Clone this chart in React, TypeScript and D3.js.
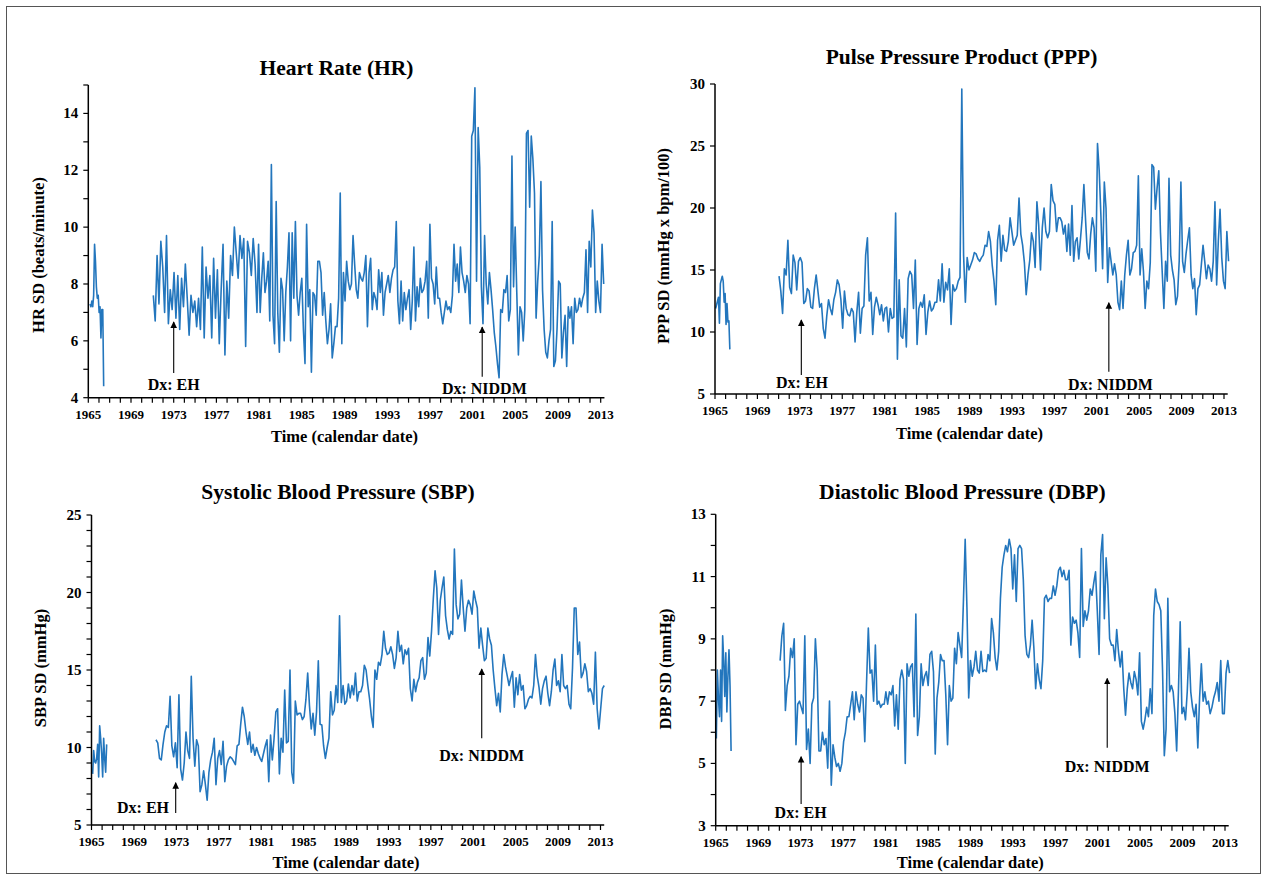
import React from "react";
import * as d3 from "d3";

// ---- data (values are SDs, time in calendar years) ----
const yearTicks = d3.range(1965, 2014);
const yearLabels = d3.range(1965, 2014, 4);

// Heart rate SD (beats/minute)
const hrEarly = [7.3, 7.2, 7.4, 7.2, 7.6, 9.4, 8.8, 7.9, 7.5, 7.6, 7.0, 7.2, 6.1, 7.1, 7.1, 4.4];
const hrA = [7.6, 6.7, 9.0, 7.3, 9.5, 8.6, 7.0, 9.7, 6.6, 7.8, 7.1, 8.4, 6.8, 8.3, 6.4, 8.2, 7.2, 8.7, 7.5, 6.2, 7.6, 7.0, 7.4, 6.5, 7.5, 6.4, 9.3, 6.1, 8.6, 7.5, 8.3, 6.1, 8.9, 6.8, 8.5, 5.9, 7.8, 9.4, 5.5, 8.1, 6.8, 9.0, 8.3, 10.0, 9.1, 8.2, 9.7, 8.9, 9.6, 5.8, 9.5, 9.1, 8.3, 9.6, 8.7, 7.0];
const hrB = [9.4, 7.0, 8.2, 9.1, 7.7, 8.1, 8.8, 6.7, 12.2, 6.9, 5.9, 10.9, 7.0, 5.6, 8.2, 7.8, 6.0, 7.7, 8.6, 9.8, 6.0, 9.8, 7.5, 10.2, 7.6, 6.9, 7.7, 8.2, 6.4, 5.2, 10.1, 7.2, 7.8, 4.9, 7.7, 7.6, 6.9, 8.8, 8.8, 8.4, 6.9, 7.7, 6.7, 5.9, 6.4, 7.3, 5.4, 5.9, 6.5, 6.5, 7.5, 11.2, 5.9, 8.4, 7.4, 8.8, 8.1, 7.8, 8.0, 9.7, 8.7, 7.8, 7.5, 8.4, 8.2, 8.1, 8.4, 9.0, 6.5, 8.4, 8.9, 7.1, 7.7, 7.5, 7.1, 8.5, 7.7, 8.4, 6.9, 7.7, 8.0, 8.3, 7.7, 8.2, 8.5, 8.6, 10.2, 7.4, 6.6, 8.1, 6.7, 7.7, 7.1, 7.5, 7.8, 6.4, 7.4, 9.3, 6.7, 7.9, 7.2, 8.2, 7.7, 7.8, 8.1, 8.8, 6.8, 10.1, 8.2, 8.0, 7.3];
const hrC = [8.6, 7.5, 7.5, 7.0, 6.6, 7.0, 7.4, 7.1, 7.2, 7.0, 7.6, 9.4, 8.1, 8.7, 7.7, 9.3, 8.4, 8.1, 7.7, 8.3, 8.0, 6.6, 13.2, 13.4, 14.9, 8.1, 13.5, 12.1, 7.9, 6.6, 9.7, 8.0, 7.3, 8.4, 7.8, 7.1, 6.3, 5.8, 5.2, 4.7, 7.1, 7.0, 7.8, 7.7, 8.3, 6.7, 7.1, 12.5, 7.9, 10.0, 7.7, 5.5, 7.2, 7.0, 6.0, 7.1, 13.3, 13.4, 10.7, 13.2, 12.4, 11.2, 6.8, 8.1, 9.0, 11.6, 7.8, 6.4, 5.6, 5.4, 6.0, 6.4, 10.2, 5.1, 5.3, 6.4, 8.1, 8.0, 5.4, 6.3, 6.9, 5.1, 7.2, 6.8, 7.2, 5.9, 7.5, 7.0, 7.1, 7.5, 7.2, 7.5, 7.7, 9.2, 7.0, 9.5, 8.6, 10.6, 9.8, 7.0, 8.1, 7.4, 7.0, 9.4, 8.0];
const hrSpans = [[1965.16, 1966.44], [1971.09, 1980.8], [1980.95, 1997.45], [1997.6, 2013.28]];

// Pulse pressure product SD (mmHg x bpm/100)
const pppEarly = [11.9, 12.2, 12.5, 12.8, 10.7, 13.9, 14.2, 14.5, 14.1, 12.4, 13.1, 10.6, 12.3, 10.8, 10.9, 8.6];
const pppA = [14.5, 13.3, 11.5, 15.1, 14.6, 17.4, 13.6, 13.1, 16.2, 15.6, 13.4, 15.7, 16.0, 15.6, 12.3, 12.5, 13.5, 13.3, 12.0, 11.9, 13.5, 14.6, 13.3, 12.0, 12.3, 10.3, 9.5, 11.3, 12.6, 11.9, 11.4, 12.6, 13.2, 14.2, 13.8, 12.6, 10.3, 13.3, 11.9, 11.4, 11.3, 11.9, 11.6, 9.2, 11.6, 13.2, 9.9, 11.9, 12.1, 16.2, 17.6, 12.5, 13.2, 9.8, 12.0, 12.8, 12.2, 11.4, 12.2, 10.9, 11.9];
const pppB = [12.0, 10.0, 11.9, 11.1, 11.2, 19.6, 7.8, 14.2, 9.7, 9.5, 11.9, 8.8, 14.3, 14.9, 14.6, 11.9, 15.8, 9.0, 11.9, 12.4, 12.0, 13.0, 9.8, 11.6, 12.5, 11.7, 11.9, 12.4, 12.4, 14.2, 12.5, 15.5, 12.4, 14.0, 13.4, 15.1, 10.6, 13.8, 13.3, 13.5, 14.1, 14.4, 29.6, 16.2, 12.4, 16.0, 15.0, 15.4, 15.8, 16.4, 16.3, 15.9, 15.7, 16.0, 16.2, 17.0, 16.9, 18.1, 17.3, 15.4, 14.1, 12.2, 17.4, 18.6, 15.7, 17.8, 16.6, 16.5, 17.3, 19.2, 18.1, 17.0, 17.4, 17.8, 20.8, 17.9, 17.0, 15.6, 13.0, 14.6, 15.8, 18.0, 17.3, 15.2, 20.5, 18.6, 15.0, 18.4, 20.0, 18.1, 17.6, 18.1, 21.9, 20.6, 20.3, 18.1, 19.2, 19.2];
const pppC = [18.9, 17.9, 18.6, 16.5, 18.7, 16.2, 20.2, 15.7, 17.3, 17.6, 15.9, 17.5, 19.2, 21.9, 19.0, 16.4, 15.9, 17.9, 19.2, 18.4, 14.9, 25.2, 23.0, 19.4, 15.1, 22.1, 20.0, 14.0, 16.8, 15.7, 14.6, 15.5, 14.6, 12.4, 11.8, 14.1, 11.9, 14.6, 16.2, 17.4, 14.6, 15.1, 16.4, 16.5, 17.0, 22.6, 14.6, 16.7, 14.9, 11.9, 14.1, 13.5, 15.6, 23.5, 23.3, 19.9, 21.6, 23.0, 18.0, 14.9, 11.9, 15.7, 14.1, 22.4, 16.2, 15.0, 14.2, 12.2, 12.9, 15.7, 22.1, 15.7, 14.8, 16.3, 17.4, 18.4, 14.6, 13.5, 14.3, 11.4, 13.5, 13.8, 15.4, 17.0, 15.7, 14.3, 15.4, 15.1, 14.1, 15.7, 20.5, 13.8, 17.4, 19.9, 16.0, 14.1, 13.5, 18.1, 15.7];
const pppSpans = [[1965.06, 1966.4], [1971.04, 1981.04], [1981.19, 1997.55], [1997.7, 2013.43]];

// Systolic blood pressure SD (mmHg)
const sbpEarly = [8.3, 9.8, 9.1, 9.0, 9.3, 10.2, 8.1, 11.4, 10.6, 9.6, 8.1, 10.6, 9.3, 8.4, 10.2];
const sbpA = [10.5, 10.3, 9.3, 9.2, 10.2, 11.0, 11.4, 11.3, 13.3, 10.1, 9.4, 10.3, 8.7, 13.4, 8.6, 7.9, 9.0, 11.0, 9.8, 9.3, 14.6, 10.6, 8.8, 10.5, 10.1, 7.15, 7.6, 8.5, 7.6, 6.6, 8.4, 9.2, 9.7, 10.6, 7.6, 9.3, 9.8, 8.9, 10.4, 7.8, 8.8, 9.2, 9.4, 9.3, 9.1, 8.9, 10.1, 10.2, 11.5, 12.6, 12.0, 11.0, 10.2, 11.0, 9.7, 10.2, 9.5, 10.0, 9.6, 9.3];
const sbpB = [9.1, 9.6, 10.1, 10.5, 7.8, 10.8, 9.2, 10.6, 12.3, 12.5, 8.3, 10.6, 9.7, 13.7, 10.3, 10.4, 15.0, 8.4, 7.7, 13.0, 12.1, 12.2, 12.2, 11.8, 12.0, 13.1, 14.8, 12.7, 11.2, 12.2, 10.8, 12.3, 15.6, 11.5, 11.45, 10.1, 9.3, 10.0, 10.6, 13.6, 12.1, 12.4, 14.0, 12.9, 18.5, 12.9, 14.0, 12.8, 13.0, 14.1, 13.2, 14.0, 13.4, 14.8, 13.0, 13.6, 13.6, 14.0, 15.3, 15.0, 14.0, 13.1, 12.0, 11.3, 15.0, 14.4, 15.5, 15.3, 16.0, 17.5, 16.4, 16.0, 16.1, 16.5, 16.0, 15.1, 15.8, 17.5, 16.2, 16.6, 15.4, 16.3, 16.0, 16.4, 13.8, 13.0, 14.4, 13.6, 14.2, 14.5, 15.6, 15.8, 14.4, 14.8, 17.1, 15.9, 17.5, 19.6, 21.4];
const sbpC = [20.3, 17.3, 19.5, 20.3, 21.0, 18.5, 17.6, 17.0, 17.5, 17.3, 22.8, 19.2, 18.3, 18.6, 20.8, 19.0, 17.5, 19.0, 19.5, 19.2, 18.6, 20.1, 19.5, 19.0, 16.4, 17.7, 16.6, 15.6, 15.75, 17.7, 17.0, 16.6, 15.0, 13.8, 12.7, 13.5, 12.3, 14.7, 16.0, 15.2, 14.6, 14.0, 14.5, 14.9, 12.6, 14.5, 13.4, 14.7, 13.7, 14.0, 12.5, 12.7, 13.1, 13.3, 13.2, 14.0, 16.0, 14.6, 13.9, 12.8, 13.8, 14.3, 14.6, 13.5, 12.7, 13.6, 15.0, 15.7, 14.0, 14.3, 13.6, 16.0, 14.0, 13.8, 14.0, 12.8, 12.5, 15.1, 19.0, 19.0, 16.0, 16.8, 14.5, 14.8, 15.4, 14.9, 13.6, 13.8, 13.5, 12.8, 16.15, 12.5, 11.2, 12.5, 13.8, 14.0];
const sbpSpans = [[1965.11, 1966.43], [1971.08, 1980.9], [1981.05, 1997.4], [1997.56, 2013.35]];

// Diastolic blood pressure SD (mmHg)
const dbpEarly = [5.8, 8.0, 7.1, 6.5, 8.0, 6.35, 9.1, 8.3, 7.15, 8.55, 6.65, 7.8, 8.65, 7.5, 5.4];
const dbpA = [8.3, 9.1, 9.5, 6.7, 7.5, 7.8, 8.7, 8.4, 9.0, 5.6, 6.9, 7.0, 6.8, 6.6, 9.1, 5.45, 6.1, 5.0, 6.9, 7.1, 9.0, 8.0, 5.4, 5.4, 6.0, 5.6, 5.8, 4.85, 7.0, 4.3, 5.6, 5.2, 4.9, 5.0, 4.75, 5.0, 5.7, 6.0, 6.5, 6.5, 6.9, 7.3, 6.4, 7.3, 6.9, 6.65, 7.2, 7.1, 5.7, 7.6, 9.35, 7.9, 8.0, 7.0, 8.8, 6.9, 7.0, 6.8, 6.9, 6.9];
const dbpB = [7.3, 6.9, 7.3, 7.2, 7.5, 6.2, 7.2, 6.1, 7.7, 8.0, 7.7, 5.0, 8.2, 7.8, 8.1, 8.2, 6.5, 9.8, 5.9, 6.5, 8.2, 7.5, 7.8, 7.95, 7.5, 8.5, 8.6, 7.95, 5.3, 7.1, 7.6, 8.5, 8.3, 8.3, 7.2, 5.6, 7.5, 7.0, 7.1, 8.7, 8.2, 9.2, 8.8, 8.4, 10.2, 12.2, 10.0, 7.1, 8.3, 7.8, 8.1, 8.6, 8.0, 7.9, 8.6, 7.95, 8.0, 7.95, 8.5, 8.3, 9.65, 9.2, 8.4, 8.0, 8.6, 10.3, 11.3, 11.7, 12.0, 11.8, 12.2, 11.9, 10.6, 11.7, 10.2, 11.9, 12.0, 11.9, 10.9, 9.1, 8.5, 8.4, 8.8, 9.6, 8.7, 7.4, 8.2, 7.7, 7.4, 8.3, 10.3, 10.4, 10.2, 10.3, 10.3, 10.7, 10.4, 10.7, 11.2, 11.3];
const dbpC = [11.0, 11.2, 10.9, 10.9, 11.2, 8.8, 9.7, 9.5, 9.6, 9.2, 8.4, 11.9, 9.4, 9.9, 9.6, 9.9, 10.6, 10.4, 10.8, 11.15, 9.9, 8.5, 11.7, 12.35, 9.65, 11.6, 10.7, 9.0, 8.8, 8.8, 8.3, 9.3, 8.6, 8.1, 8.6, 7.4, 6.55, 7.4, 7.9, 7.6, 7.4, 7.95, 7.7, 7.2, 8.55, 6.35, 6.1, 6.4, 6.8, 6.5, 7.4, 6.6, 9.75, 10.6, 10.2, 10.1, 9.9, 8.0, 5.25, 6.1, 10.3, 7.3, 7.5, 7.3, 6.6, 5.4, 7.3, 9.55, 6.6, 6.8, 6.4, 7.3, 8.7, 7.3, 6.8, 6.5, 6.9, 5.5, 7.1, 8.2, 7.0, 7.3, 6.9, 7.0, 6.6, 6.8, 7.1, 7.3, 7.6, 7.0, 8.3, 6.6, 6.6, 7.9, 8.3, 7.9];
const dbpSpans = [[1965.06, 1966.45], [1971.07, 1980.88], [1981.04, 1997.48], [1997.64, 2013.43]];

// diagnosis markers: [label, arrow year, arrow top value, arrow bottom value, label year, label value]
const hrNotes = [["Dx: EH", 1973.0, 6.7, 4.87, 1973.0, 4.45], ["Dx: NIDDM", 2001.9, 6.52, 4.74, 2002.1, 4.34]];
const pppNotes = [["Dx: EH", 1973.14, 11.05, 6.53, 1973.2, 5.9], ["Dx: NIDDM", 2002.14, 12.44, 6.8, 2002.3, 5.73]];
const sbpNotes = [["Dx: EH", 1972.94, 7.79, 5.77, 1969.86, 6.1], ["Dx: NIDDM", 2001.8, 15.13, 10.6, 2001.8, 9.47]];
const dbpNotes = [["Dx: EH", 1973.05, 5.25, 3.7, 1973.0, 3.41], ["Dx: NIDDM", 2001.9, 7.76, 5.5, 2001.9, 4.9]];

const FONT = "'Liberation Serif', 'Times New Roman', serif";
const BLUE = "#2376bd";

type Pt = { t: number; v: number };

const spread = (vals: number[], span: number[]): Pt[] =>
  vals.map((v, i) => ({ t: span[0] + ((span[1] - span[0]) * i) / (vals.length - 1), v }));

const panels = [
  {
    title: "Heart Rate (HR)", titleY: 75, yTitle: "HR SD (beats/minute)", yTitleX: 38, yTitleY: 255,
    xRange: [88.3, 600.7], yRange: [397.7, 85], yDomain: [4, 15], yStep: 1, yLabelStep: 2,
    early: hrEarly, parts: [hrA, hrB, hrC], spans: hrSpans, notes: hrNotes, xTitleY: 442,
  },
  {
    title: "Pulse Pressure Product (PPP)", titleY: 64, yTitle: "PPP SD (mmHg x bpm/100)", yTitleX: 663, yTitleY: 246,
    xRange: [715, 1224], yRange: [394, 84], yDomain: [5, 30], yStep: 5, yLabelStep: 5,
    early: pppEarly, parts: [pppA, pppB, pppC], spans: pppSpans, notes: pppNotes, xTitleY: 439,
  },
  {
    title: "Systolic Blood Pressure (SBP)", titleY: 499, yTitle: "SBP SD (mmHg)", yTitleX: 40, yTitleY: 668,
    xRange: [91.5, 600.5], yRange: [825, 515], yDomain: [5, 25], yStep: 1, yLabelStep: 5,
    early: sbpEarly, parts: [sbpA, sbpB, sbpC], spans: sbpSpans, notes: sbpNotes, xTitleY: 868,
  },
  {
    title: "Diastolic Blood Pressure (DBP)", titleY: 499, yTitle: "DBP SD (mmHg)", yTitleX: 665, yTitleY: 669,
    xRange: [715.7, 1225], yRange: [825.7, 514.3], yDomain: [3, 13], yStep: 1, yLabelStep: 2,
    early: dbpEarly, parts: [dbpA, dbpB, dbpC], spans: dbpSpans, notes: dbpNotes, xTitleY: 868,
  },
];

function Panel({ p }: { p: any }) {
  const x = d3.scaleLinear().domain([1965, 2013]).range(p.xRange);
  const y = d3.scaleLinear().domain(p.yDomain).range(p.yRange);
  const line = d3.line<Pt>().x((d) => x(d.t)).y((d) => y(d.v));

  const early = spread(p.early, p.spans[0]);
  const main = p.parts.flatMap((vals: number[], i: number) => spread(vals, p.spans[i + 1]));

  const yTicks = d3.range(p.yDomain[0], p.yDomain[1] + 0.001, p.yStep);
  const x0 = x(1965);
  const xEnd = x(2013.35);
  const yBase = y(p.yDomain[0]);
  const cx = (p.xRange[0] + p.xRange[1]) / 2;

  return (
    <g fontFamily={FONT} fontWeight="bold" fill="#000">
      <text x={cx - 8} y={p.titleY} textAnchor="middle" fontSize={21.5}>{p.title}</text>
      <text
        transform={`translate(${p.yTitleX},${p.yTitleY}) rotate(-90)`}
        textAnchor="middle"
        dominantBaseline="central"
        fontSize={16.5}
      >
        {p.yTitle}
      </text>
      <text x={cx} y={p.xTitleY} textAnchor="middle" fontSize={16.5}>Time (calendar date)</text>

      {/* data */}
      <path d={line(early) || ""} fill="none" stroke={BLUE} strokeWidth={1.6} strokeLinejoin="round" />
      <path d={line(main) || ""} fill="none" stroke={BLUE} strokeWidth={1.6} strokeLinejoin="round" />

      {/* y axis */}
      <line x1={x0} x2={x0} y1={yBase} y2={y(p.yDomain[1])} stroke="#000" strokeWidth={1.5} />
      {yTicks.map((v: number) => (
        <g key={v}>
          <line x1={x0 - 5} x2={x0} y1={y(v)} y2={y(v)} stroke="#000" strokeWidth={1.2} />
          {Math.abs((v - p.yDomain[0]) % p.yLabelStep) < 1e-6 && (
            <text x={x0 - 10} y={y(v)} textAnchor="end" dominantBaseline="central" fontSize={15}>{v}</text>
          )}
        </g>
      ))}

      {/* x axis */}
      <line x1={x0} x2={xEnd} y1={yBase} y2={yBase} stroke="#000" strokeWidth={1.5} />
      {yearTicks.map((yr) => (
        <line key={yr} x1={x(yr)} x2={x(yr)} y1={yBase} y2={yBase + 5} stroke="#000" strokeWidth={1.2} />
      ))}
      {yearLabels.map((yr) => (
        <text key={yr} x={x(yr)} y={yBase + 21} textAnchor="middle" fontSize={13}>{yr}</text>
      ))}

      {/* diagnosis arrows */}
      {p.notes.map((n: any[]) => (
        <g key={n[0]}>
          <line
            x1={x(n[1])} x2={x(n[1])} y1={y(n[3])} y2={y(n[2]) + 1}
            stroke="#000" strokeWidth={1.1} markerEnd="url(#arrowHead)"
          />
          <text x={x(n[4])} y={y(n[5])} textAnchor="middle" dominantBaseline="central" fontSize={16}>{n[0]}</text>
        </g>
      ))}
    </g>
  );
}

export default function App() {
  return (
    <svg
      width={1266}
      height={879}
      style={{ position: "absolute", left: 0, top: 0, background: "#fff" }}
    >
      <defs>
        <marker id="arrowHead" viewBox="0 0 10 10" refX="9" refY="5" markerWidth="6" markerHeight="7" orient="auto">
          <path d="M0,0 L10,5 L0,10 z" fill="#000" />
        </marker>
      </defs>
      <rect x={0} y={0} width={1266} height={879} fill="#fff" />
      <rect x={6.5} y={6.5} width={1254} height={867} fill="none" stroke="#555" strokeWidth={1} />
      {panels.map((p) => (
        <Panel key={p.title} p={p} />
      ))}
    </svg>
  );
}
